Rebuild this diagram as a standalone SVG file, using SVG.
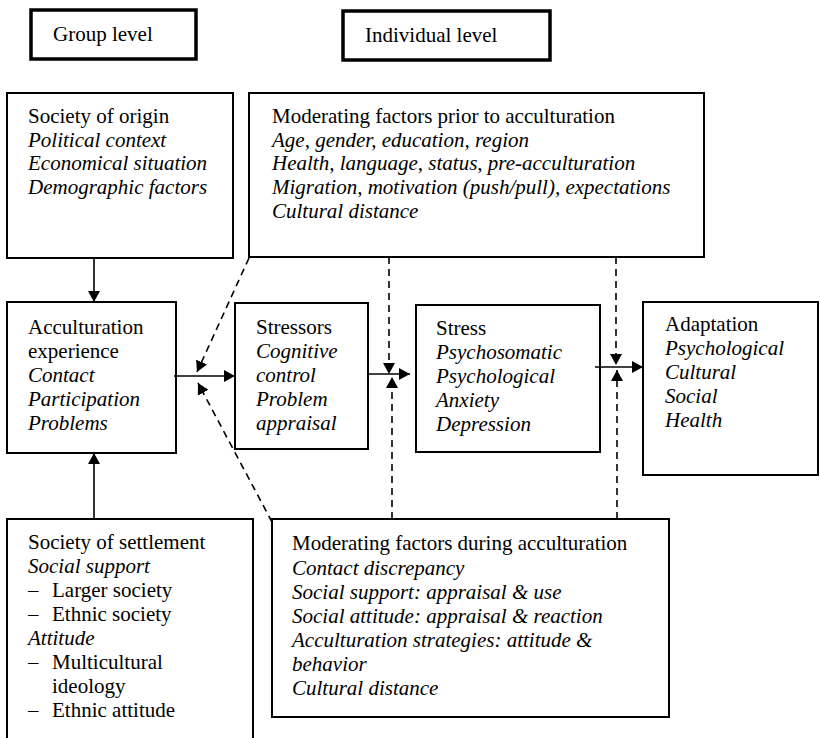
<svg xmlns="http://www.w3.org/2000/svg" width="820" height="738" viewBox="0 0 820 738" font-family="'Liberation Serif', 'Times New Roman', Times, 'DejaVu Serif', serif">
<style>
text{font-family:'Liberation Serif','Times New Roman',Times,'DejaVu Serif',serif;font-size:21px;fill:#000}
.i{font-style:italic}
.box{fill:#fff;stroke:#000;stroke-width:2}
.thick{fill:#fff;stroke:#000;stroke-width:3.5}
.ln{stroke:#000;stroke-width:1.6;fill:none}
.dash{stroke:#000;stroke-width:1.6;fill:none;stroke-dasharray:7 5}
</style>
<defs>
<marker id="arr" markerUnits="userSpaceOnUse" markerWidth="12" markerHeight="12" refX="11" refY="6" orient="auto">
<path d="M0,0 L11,6 L0,12 z" fill="#000" stroke="none"/>
</marker>
</defs>
<rect width="820" height="738" fill="#fff"/>
<g id="group-level"><rect class="thick" x="31" y="10" width="165" height="49"/><text x="53" y="41">Group level</text></g>
<g id="individual-level"><rect class="thick" x="343" y="11" width="207" height="49"/><text x="365" y="42">Individual level</text></g>
<g id="society-origin"><rect class="box" x="7" y="93" width="226" height="165"/>
<text x="28" y="123">Society of origin</text>
<text class="i" x="28" y="147">Political context</text>
<text class="i" x="28" y="170">Economical situation</text>
<text class="i" x="28" y="194">Demographic factors</text></g>
<g id="moderating-prior"><rect class="box" x="249" y="93" width="455" height="164"/>
<text x="272" y="123">Moderating factors prior to acculturation</text>
<text class="i" x="272" y="147">Age, gender, education, region</text>
<text class="i" x="272" y="170">Health, language, status, pre-acculturation</text>
<text class="i" x="272" y="194">Migration, motivation (push/pull), expectations</text>
<text class="i" x="272" y="218">Cultural distance</text></g>
<g id="acculturation-experience"><rect class="box" x="7" y="302" width="169" height="151"/>
<text x="28" y="334">Acculturation</text>
<text x="28" y="358">experience</text>
<text class="i" x="28" y="382">Contact</text>
<text class="i" x="28" y="406">Participation</text>
<text class="i" x="28" y="430">Problems</text></g>
<g id="stressors"><rect class="box" x="235" y="303" width="133" height="146"/>
<text x="256" y="334">Stressors</text>
<text class="i" x="256" y="358">Cognitive</text>
<text class="i" x="256" y="382">control</text>
<text class="i" x="256" y="406">Problem</text>
<text class="i" x="256" y="430">appraisal</text></g>
<g id="stress"><rect class="box" x="416" y="305" width="184" height="147"/>
<text x="436" y="335">Stress</text>
<text class="i" x="436" y="359">Psychosomatic</text>
<text class="i" x="436" y="383">Psychological</text>
<text class="i" x="436" y="407">Anxiety</text>
<text class="i" x="436" y="431">Depression</text></g>
<g id="adaptation"><rect class="box" x="643" y="302" width="175" height="173"/>
<text x="665" y="331">Adaptation</text>
<text class="i" x="665" y="355">Psychological</text>
<text class="i" x="665" y="379">Cultural</text>
<text class="i" x="665" y="403">Social</text>
<text class="i" x="665" y="427">Health</text></g>
<g id="society-settlement"><rect class="box" x="7" y="519" width="246" height="240"/>
<text x="28" y="549">Society of settlement</text>
<text class="i" x="28" y="573">Social support</text>
<text x="28" y="597">–</text><text x="52" y="597">Larger society</text>
<text x="28" y="621">–</text><text x="52" y="621">Ethnic society</text>
<text class="i" x="28" y="645">Attitude</text>
<text x="28" y="669">–</text><text x="52" y="669">Multicultural</text>
<text x="52" y="693">ideology</text>
<text x="28" y="717">–</text><text x="52" y="717">Ethnic attitude</text></g>
<g id="moderating-during"><rect class="box" x="272" y="519" width="397" height="198"/>
<text x="292" y="550">Moderating factors during acculturation</text>
<text class="i" x="292" y="575">Contact discrepancy</text>
<text class="i" x="292" y="599">Social support: appraisal &amp; use</text>
<text class="i" x="292" y="623">Social attitude: appraisal &amp; reaction</text>
<text class="i" x="292" y="647">Acculturation strategies: attitude &amp;</text>
<text class="i" x="292" y="671">behavior</text>
<text class="i" x="292" y="695">Cultural distance</text></g>
<g id="connectors">
<line class="ln" x1="94" y1="258" x2="94" y2="302" marker-end="url(#arr)"/>
<line class="ln" x1="94" y1="519" x2="94" y2="453" marker-end="url(#arr)"/>
<line class="ln" x1="174" y1="376" x2="235" y2="376" marker-end="url(#arr)"/>
<line class="ln" x1="368" y1="374" x2="410" y2="374" marker-end="url(#arr)"/>
<line class="ln" x1="595" y1="367" x2="643" y2="367" marker-end="url(#arr)"/>
<line class="dash" x1="389" y1="257" x2="389" y2="374" marker-end="url(#arr)"/>
<line class="dash" x1="392" y1="519" x2="392" y2="377" marker-end="url(#arr)"/>
<line class="dash" x1="616" y1="257" x2="616" y2="365" marker-end="url(#arr)"/>
<line class="dash" x1="617" y1="519" x2="617" y2="370" marker-end="url(#arr)"/>
<line class="dash" x1="249" y1="258" x2="197" y2="372" marker-end="url(#arr)"/>
<line class="dash" x1="272" y1="522" x2="198" y2="383" marker-end="url(#arr)"/>
</g>
</svg>
